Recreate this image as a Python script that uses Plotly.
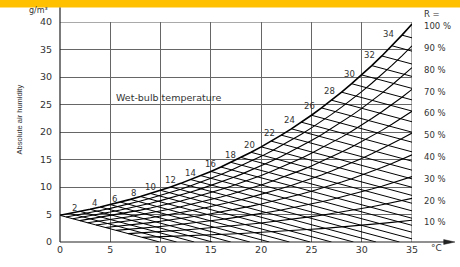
import numpy as np
import plotly.graph_objects as go

# Saturation absolute humidity (g/m³)
temp_c = list(range(0, 36))
sat_ah = [4.85, 5.19, 5.56, 5.95, 6.36, 6.80, 7.26, 7.75, 8.27, 8.82,
          9.40, 10.01, 10.66, 11.35, 12.07, 12.83, 13.63, 14.48, 15.37, 16.31,
          17.30, 18.34, 19.43, 20.58, 21.78, 23.05, 24.38, 25.78, 27.24, 28.78,
          30.38, 32.07, 33.83, 35.68, 37.61, 39.63]
rh_levels = [10, 20, 30, 40, 50, 60, 70, 80, 90, 100]
rh_labels = ["10 %", "20 %", "30 %", "40 %", "50 %", "60 %", "70 %", "80 %", "90 %", "100 %"]
wet_bulb = list(range(0, 35))            # one line per °C
wet_bulb_labels = list(range(2, 36, 2))  # labelled every 2 °C
wet_bulb_slope = 0.49  # g/m³ per °C, read from the 0 °C line (5 -> 0 over 10 °C)
x_ticks = [0, 5, 10, 15, 20, 25, 30, 35]
y_ticks = [0, 5, 10, 15, 20, 25, 30, 35, 40]

T = np.array(temp_c, float)
S = np.array(sat_ah, float)
S0 = S[0]
FONT = "DejaVu Sans"
TXT = "#333333"

fig = go.Figure()

# relative humidity curves, starting on the 0 °C wet-bulb line
for r in rh_levels:
    frac = r / 100.0
    y = frac * S
    base = S0 - wet_bulb_slope * T
    f = y - base
    if f[0] >= 0:
        t0, y0, idx = T[0], y[0], 1
    else:
        i = int(np.argmax(f >= 0))
        a = f[i - 1] / (f[i - 1] - f[i])
        t0 = T[i - 1] + a * (T[i] - T[i - 1])
        y0 = y[i - 1] + a * (y[i] - y[i - 1])
        idx = i
    xs = [t0] + list(T[idx:])
    ys = [y0] + list(y[idx:])
    fig.add_trace(go.Scatter(x=xs, y=ys, mode="lines",
                             line=dict(color="black", width=1.6 if r == 100 else 1.1),
                             hoverinfo="skip", showlegend=False))

# wet-bulb lines
for tw in wet_bulb:
    s = S[tw]
    x_end = min(35.0, tw + s / wet_bulb_slope)
    y_end = s - wet_bulb_slope * (x_end - tw)
    fig.add_trace(go.Scatter(x=[tw, x_end], y=[s, y_end], mode="lines",
                             line=dict(color="black", width=1.0),
                             hoverinfo="skip", showlegend=False))

for tw in wet_bulb_labels:
    if tw > 34:
        continue
    fig.add_annotation(x=tw, y=S[tw], text=str(tw), showarrow=False,
                       xanchor="right", yanchor="middle",
                       xshift=-1 - 4.5 * tw / 34, yshift=4 - 3 * tw / 34,
                       font=dict(family=FONT, size=8.5, color=TXT))

# right-hand RH labels
for r, lab in zip(rh_levels, rh_labels):
    fig.add_annotation(x=1.027, xref="paper", y=r / 100.0 * S[-1] - 0.4, yref="y",
                       text=lab, showarrow=False, xanchor="left", yanchor="middle",
                       font=dict(family=FONT, size=8.5, color=TXT))

fig.add_annotation(x=1.027, xref="paper", y=1.038, yref="paper", text="R =",
                   showarrow=False, xanchor="left", yanchor="middle",
                   font=dict(family=FONT, size=8.5, color=TXT))
fig.add_annotation(x=1.07, xref="paper", y=-0.027, yref="paper", text="°C",
                   showarrow=False, xanchor="center", yanchor="middle",
                   font=dict(family=FONT, size=9, color=TXT))
fig.add_annotation(x=-0.062, xref="paper", y=1.052, yref="paper", text="g/m³",
                   showarrow=False, xanchor="center", yanchor="middle",
                   font=dict(family=FONT, size=8, color=TXT))
fig.add_annotation(x=-0.115, xref="paper", y=0.555, yref="paper",
                   text="Absolute air humidity", textangle=-90, showarrow=False,
                   xanchor="center", yanchor="middle",
                   font=dict(family="Liberation Sans Narrow, Liberation Sans", size=7.5, color=TXT))
fig.add_annotation(x=10.8, y=26.2, text="Wet-bulb temperature", showarrow=False,
                   xanchor="center", yanchor="middle",
                   font=dict(family=FONT, size=9.5, color=TXT))

shapes = [
    # top yellow band
    dict(type="rect", xref="paper", yref="paper", x0=-0.2, x1=1.2, y0=1.066, y1=1.12,
         fillcolor="#FFC000", line=dict(width=0), layer="above"),
    # borders at x=35 and y=40
    dict(type="line", xref="x", yref="y", x0=35, x1=35, y0=0, y1=40,
         line=dict(color="#555555", width=1), layer="below"),
    dict(type="line", xref="x", yref="y", x0=0, x1=35, y0=40, y1=40,
         line=dict(color="#555555", width=1), layer="below"),
    # extended axes
    dict(type="line", xref="paper", yref="paper", x0=0, x1=0, y0=0, y1=1.066,
         line=dict(color="#222222", width=1.2)),
    dict(type="line", xref="paper", yref="paper", x0=0, x1=1.1, y0=0, y1=0,
         line=dict(color="#222222", width=1.2)),
    dict(type="path", xref="paper", yref="paper",
         path="M 1.09,-0.011 L 1.122,0 L 1.09,0.011 Z",
         fillcolor="#222222", line=dict(color="#222222", width=0.5)),
]

fig.update_layout(
    width=460, height=267,
    margin=dict(l=60, r=48, t=22, b=19),
    paper_bgcolor="white", plot_bgcolor="white",
    shapes=shapes,
    xaxis=dict(range=[0, 35], tickvals=x_ticks, ticktext=[str(v) for v in x_ticks],
               showgrid=True, gridcolor="#666666", gridwidth=1, zeroline=False,
               showline=False, ticks="", tickfont=dict(family=FONT, size=9.5, color=TXT),
               fixedrange=True),
    yaxis=dict(range=[0, 40], tickvals=y_ticks, ticktext=[str(v) for v in y_ticks],
               showgrid=True, gridcolor="#666666", gridwidth=1, zeroline=False,
               showline=False, ticks="", ticklabelstandoff=7,
               tickfont=dict(family=FONT, size=9.5, color=TXT), fixedrange=True),
    showlegend=False,
)

fig.write_html("out.html", config={"displayModeBar": False},
               post_script="document.body.style.margin='0';")
